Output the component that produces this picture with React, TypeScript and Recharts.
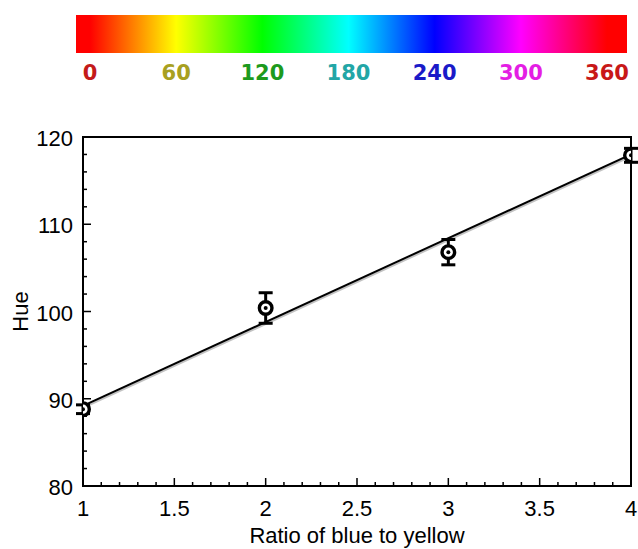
import React from "react";
import {
  ComposedChart,
  Line,
  Scatter,
  ErrorBar,
  XAxis,
  YAxis,
  ReferenceArea,
} from "recharts";

// ---- data ----
const ratios = [1, 2, 3, 4];
const hueMeans = [88.8, 100.4, 106.8, 117.9];
const hueErrors = [0.5, 1.75, 1.45, 0.8];
const fitX = [1, 4];
const fitY = [89.2, 118.0];

const xTickLabels = ["1", "1.5", "2", "2.5", "3", "3.5", "4"];
const yTickLabels = ["80", "90", "100", "110", "120"];
const hueTicks = [0, 60, 120, 180, 240, 300, 360];
const hueLabelColors = ["#c41a1a", "#a8a020", "#1d9a1d", "#22a6a6", "#1a1ac8", "#e41ee4", "#c81818"];

const points = ratios.map((x, i) => ({ x, y: hueMeans[i], err: hueErrors[i] }));
const fitData = fitX.map((x, i) => ({ x, y: fitY[i] }));

const xMajor = xTickLabels.map(Number);
const yMajor = yTickLabels.map(Number);
const xTicks: number[] = [];
for (let i = 0; i <= 30; i++) xTicks.push(Math.round((1 + i * 0.1) * 10) / 10);
const yTicks: number[] = [];
for (let v = 80; v <= 120; v += 2) yTicks.push(v);

const FONT = "'Liberation Sans', Arial, Helvetica, sans-serif";

const XTick = (props: any) => {
  const { x, y, payload } = props;
  const v = payload.value;
  const idx = xMajor.findIndex((m) => Math.abs(m - v) < 1e-6);
  const major = idx >= 0;
  return (
    <g>
      <line x1={x} x2={x} y1={y} y2={y - (major ? 8 : 4)} stroke="#000" strokeWidth={1.5} />
      {major && (
        <text x={x} y={y + 30} textAnchor="middle" fontSize={22} fontFamily={FONT} fill="#000">
          {xTickLabels[idx]}
        </text>
      )}
    </g>
  );
};

const YTick = (props: any) => {
  const { x, y, payload } = props;
  const v = payload.value;
  const idx = yMajor.indexOf(v);
  const major = idx >= 0;
  return (
    <g>
      <line x1={x} x2={x + (major ? 8 : 4)} y1={y} y2={y} stroke="#000" strokeWidth={1.5} />
      {major && (
        <text x={x - 10} y={y + 9} textAnchor="end" fontSize={22} fontFamily={FONT} fill="#000">
          {yTickLabels[idx]}
        </text>
      )}
    </g>
  );
};

const Marker = (props: any) => {
  const { cx, cy } = props;
  return (
    <g>
      <circle cx={cx} cy={cy} r={6.3} fill="#fff" stroke="#000" strokeWidth={3.4} />
      <circle cx={cx} cy={cy} r={2} fill="#000" />
    </g>
  );
};

const ColorBar = () => {
  const barX = 76;
  const barW = 551;
  const labelStart = 90;
  const labelSpan = 517;
  return (
    <svg width={638} height={100} style={{ position: "absolute", left: 0, top: 0 }}>
      <defs>
        <linearGradient id="hueGrad" x1="0" y1="0" x2="1" y2="0">
          {hueTicks.map((h) => (
            <stop
              key={h}
              offset={(labelStart + (h / 360) * labelSpan - barX) / barW}
              stopColor={`hsl(${h % 360}, 100%, 50%)`}
            />
          ))}
        </linearGradient>
      </defs>
      <rect x={barX} y={15} width={barW} height={38} fill="url(#hueGrad)" />
      {hueTicks.map((h, i) => (
        <text
          key={h}
          x={labelStart + (h / 360) * labelSpan}
          y={80}
          textAnchor="middle"
          fontSize={21}
          fontWeight="bold"
          fontFamily="'DejaVu Sans', Verdana, sans-serif"
          fill={hueLabelColors[i]}
        >
          {h}
        </text>
      ))}
    </svg>
  );
};

export default function App() {
  return (
    <div style={{ position: "absolute", left: 0, top: 0, width: 638, height: 549, background: "#fff" }}>
      <ColorBar />
      <div style={{ position: "absolute", left: 0, top: 0 }}>
        <ComposedChart width={638} height={549} margin={{ top: 137, right: 7, bottom: 0, left: 0 }}>
          <XAxis
            type="number"
            dataKey="x"
            domain={[1, 4]}
            ticks={xTicks}
            interval={0}
            allowDataOverflow
            tick={<XTick />}
            tickLine={false}
            tickSize={0}
            tickMargin={0}
            height={63}
            axisLine={{ stroke: "#000", strokeWidth: 2 }}
            label={{ value: "Ratio of blue to yellow", position: "insideBottom", offset: 6, fontSize: 22, fill: "#000", fontFamily: FONT }}
          />
          <YAxis
            type="number"
            domain={[80, 120]}
            ticks={yTicks}
            interval={0}
            allowDataOverflow
            tick={<YTick />}
            tickLine={false}
            tickSize={0}
            tickMargin={0}
            width={83}
            axisLine={{ stroke: "#000", strokeWidth: 2 }}
            label={{ value: "Hue", angle: -90, position: "insideLeft", offset: 20, fontSize: 22, fill: "#000", fontFamily: FONT, style: { textAnchor: "middle" } }}
          />
          <ReferenceArea x1={1} x2={4} y1={80} y2={120} fill="none" stroke="#000" strokeWidth={2} />
          <Line
            data={fitData}
            dataKey="y"
            type="linear"
            stroke="#9a9a9a"
            strokeOpacity={0.6}
            strokeWidth={2}
            dot={false}
            isAnimationActive={false}
            style={{ transform: "translate(1px, 1.5px)" }}
          />
          <Line
            data={fitData}
            dataKey="y"
            type="linear"
            stroke="#000"
            strokeWidth={2}
            dot={false}
            isAnimationActive={false}
          />
          <Scatter data={points} dataKey="y" shape={<Marker />} isAnimationActive={false}>
            <ErrorBar dataKey="err" direction="y" width={7} strokeWidth={3} stroke="#000" />
          </Scatter>
        </ComposedChart>
      </div>
    </div>
  );
}
